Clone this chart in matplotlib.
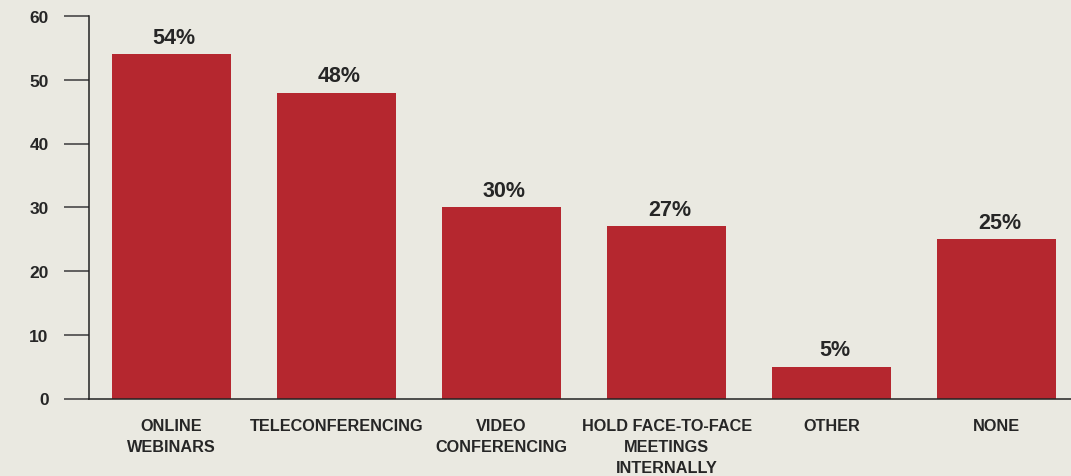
import matplotlib.pyplot as plt
import numpy as np

plt.rcParams['font.family'] = ['Liberation Sans', 'DejaVu Sans']
plt.rcParams['font.weight'] = 'bold'

categories = ["ONLINE\nWEBINARS", "TELECONFERENCING", "VIDEO\nCONFERENCING",
              "HOLD FACE-TO-FACE\nMEETINGS\nINTERNALLY", "OTHER", "NONE"]
values = [54, 48, 30, 27, 5, 25]
yticks = [0, 10, 20, 30, 40, 50, 60]

bg = "#eae9e1"
bar_color = "#b5272f"
ink = "#262626"

fig = plt.figure(figsize=(10.71, 4.77), dpi=100, facecolor=bg)
ax = fig.add_axes([89 / 1071, 1 - 399.5 / 477, (1071 - 89) / 1071, (399.5 - 17) / 477])
ax.set_facecolor(bg)

x = np.arange(len(values))
bars = ax.bar(x, values, width=0.72, color=bar_color, zorder=2)

for b, v in zip(bars, values):
    ax.annotate(f"{v}%", (b.get_x() + b.get_width() / 2, v),
                xytext=(2, 4.5), textcoords="offset points",
                ha="center", va="bottom", fontsize=15.5, color=ink, fontweight="bold")

ax.set_xlim(-0.5, 5.45)
ax.set_ylim(0, 60)
ax.set_yticks(yticks)
ax.set_xticks(x)
ax.set_xticklabels(categories, fontsize=11.7, color=ink, linespacing=1.5)
ax.tick_params(axis="x", length=0, pad=14)
ax.tick_params(axis="y", direction="out", length=18, width=1.1, color="#3a3a3a",
               pad=11, labelsize=12.5, labelcolor=ink)

for side in ["top", "right"]:
    ax.spines[side].set_visible(False)
for side in ["left", "bottom"]:
    ax.spines[side].set_color("#222222")
    ax.spines[side].set_linewidth(1.1)
    ax.spines[side].set_zorder(3)

fig.savefig("out.png", dpi=100, facecolor=bg)
